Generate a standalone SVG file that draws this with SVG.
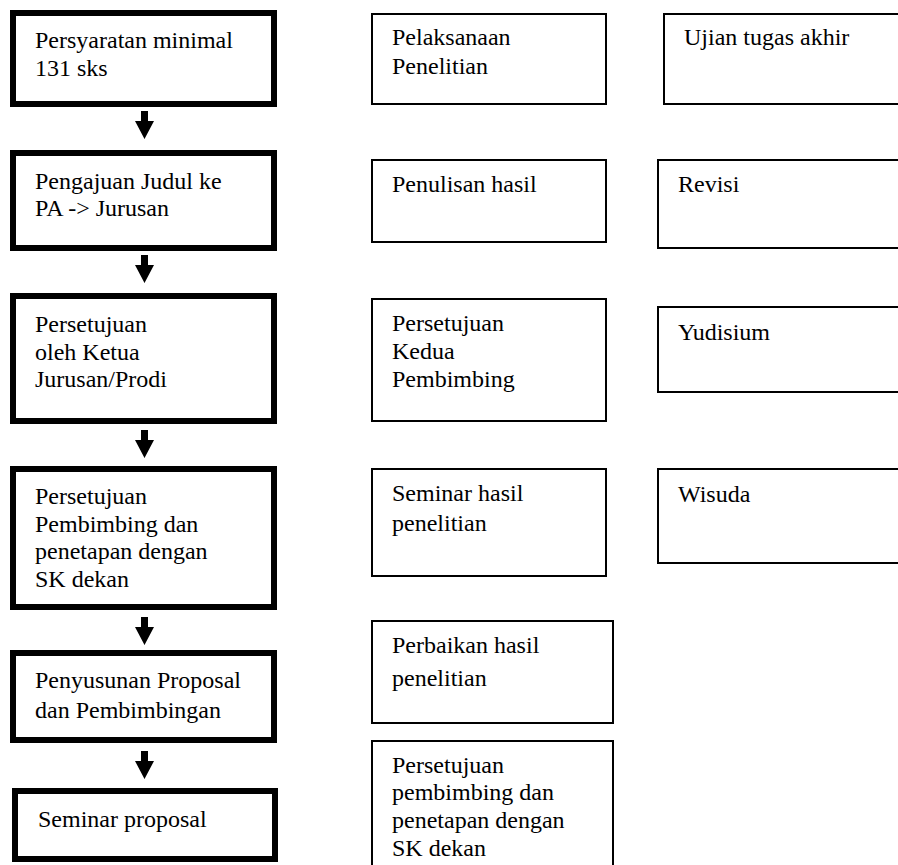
<svg xmlns="http://www.w3.org/2000/svg" width="898" height="865" viewBox="0 0 898 865">
<style>
.thick{fill:#fff;stroke:#000;stroke-width:6}
.thin{fill:#fff;stroke:#000;stroke-width:2}
.t{font-family:'Times New Roman','Liberation Serif',Tinos,serif;font-size:24px;fill:#000}
.arr{fill:#000}
</style>
<defs>
<path id="arrow" d="M-3.5,0 H3.5 V10 H9.5 L0,28 L-9.5,10 H-3.5 Z"/>
</defs>
<rect width="898" height="865" fill="#fff"/>
<g class="t" font-family="Liberation Serif, Times New Roman, serif">
<g id="n1"><rect class="thick" x="13" y="13" width="261" height="91"/><text x="35" y="48">Persyaratan minimal</text><text x="35" y="76">131 sks</text></g>
<g id="n2"><rect class="thick" x="13" y="153" width="261" height="95"/><text x="35" y="189">Pengajuan Judul ke</text><text x="35" y="216">PA -&gt; Jurusan</text></g>
<g id="n3"><rect class="thick" x="13" y="296" width="261" height="125"/><text x="35" y="332">Persetujuan</text><text x="35" y="360">oleh Ketua</text><text x="35" y="387">Jurusan/Prodi</text></g>
<g id="n4"><rect class="thick" x="13" y="469" width="261" height="138"/><text x="35" y="504">Persetujuan</text><text x="35" y="532">Pembimbing dan</text><text x="35" y="559">penetapan dengan</text><text x="35" y="587">SK dekan</text></g>
<g id="n5"><rect class="thick" x="13" y="653" width="261" height="87"/><text x="35" y="688">Penyusunan Proposal</text><text x="35" y="718">dan Pembimbingan</text></g>
<g id="n6"><rect class="thick" x="15" y="791" width="260" height="68"/><text x="38" y="827">Seminar proposal</text></g>
<g id="m1"><rect class="thin" x="372" y="14" width="234" height="90"/><text x="392" y="45">Pelaksanaan</text><text x="392" y="74">Penelitian</text></g>
<g id="m2"><rect class="thin" x="372" y="160" width="234" height="82"/><text x="392" y="192">Penulisan hasil</text></g>
<g id="m3"><rect class="thin" x="372" y="299" width="234" height="122"/><text x="392" y="331">Persetujuan</text><text x="392" y="359">Kedua</text><text x="392" y="387">Pembimbing</text></g>
<g id="m4"><rect class="thin" x="372" y="469" width="234" height="107"/><text x="392" y="501">Seminar hasil</text><text x="392" y="531">penelitian</text></g>
<g id="m5"><rect class="thin" x="372" y="621" width="241" height="102"/><text x="392" y="653">Perbaikan hasil</text><text x="392" y="686">penelitian</text></g>
<g id="m6"><rect class="thin" x="372" y="741" width="241" height="140"/><text x="392" y="773">Persetujuan</text><text x="392" y="800">pembimbing dan</text><text x="392" y="828">penetapan dengan</text><text x="392" y="856">SK dekan</text></g>
<g id="r1"><rect class="thin" x="664" y="14" width="300" height="90"/><text x="684" y="45">Ujian tugas akhir</text></g>
<g id="r2"><rect class="thin" x="658" y="160" width="300" height="88"/><text x="678" y="192">Revisi</text></g>
<g id="r3"><rect class="thin" x="658" y="307" width="300" height="85"/><text x="678" y="340">Yudisium</text></g>
<g id="r4"><rect class="thin" x="658" y="469" width="300" height="94"/><text x="678" y="502">Wisuda</text></g>
</g>
<g id="connectors" class="arr">
<use href="#arrow" x="144.5" y="111"/>
<use href="#arrow" x="144.5" y="255"/>
<use href="#arrow" x="144.5" y="430"/>
<use href="#arrow" x="144.5" y="617"/>
<use href="#arrow" x="144.5" y="751"/>
</g>
</svg>
